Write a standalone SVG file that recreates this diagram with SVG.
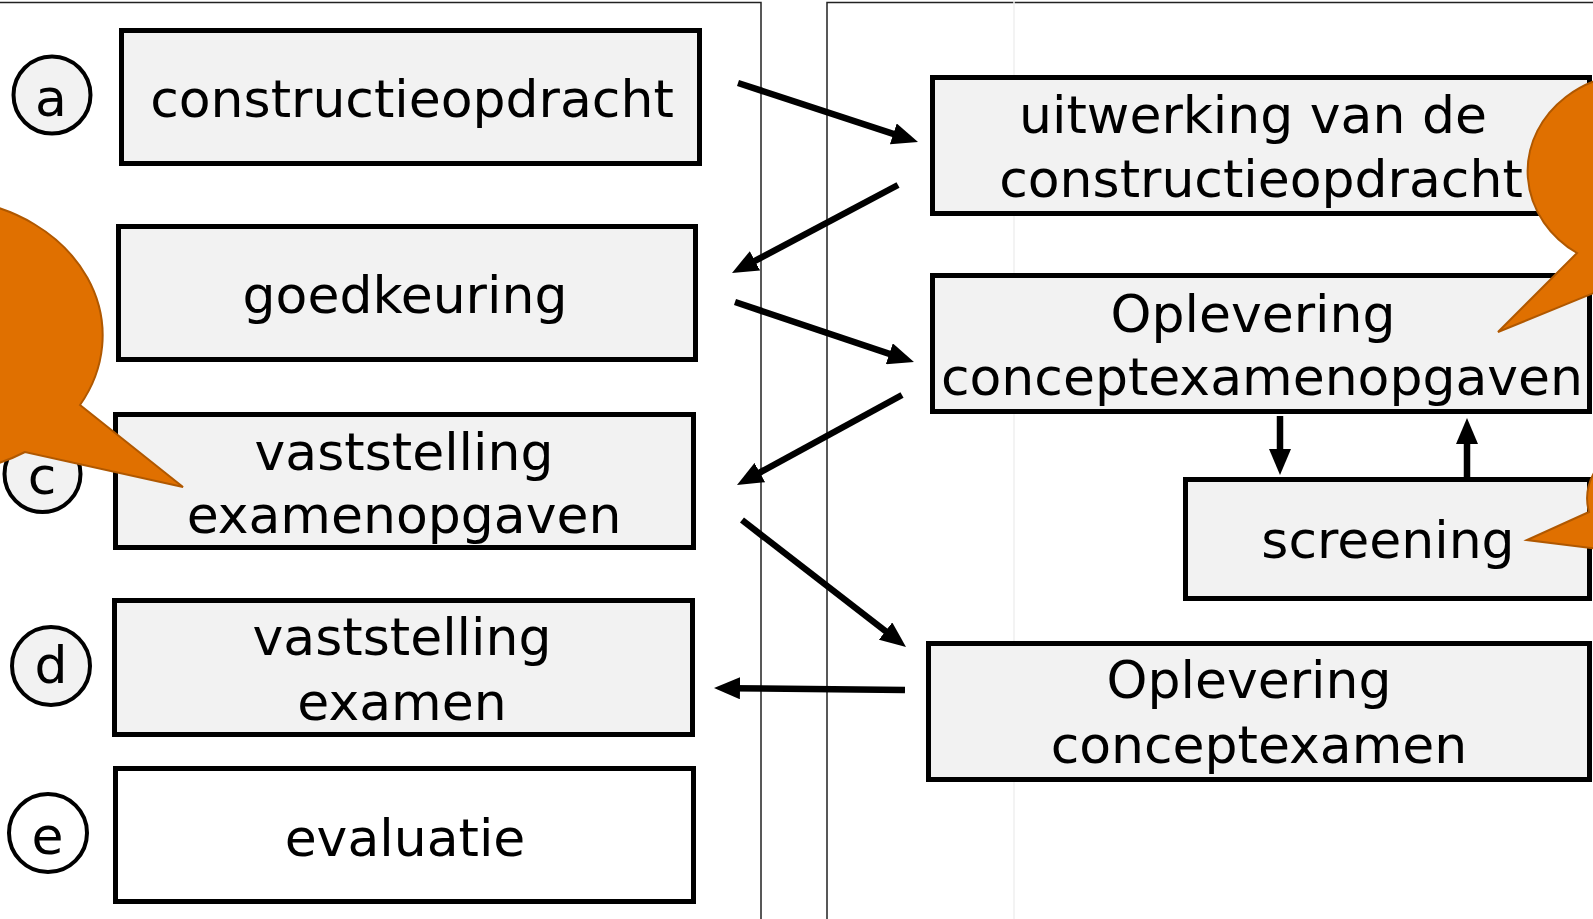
<svg xmlns="http://www.w3.org/2000/svg" width="1593" height="919" viewBox="0 0 1593 919">
<style>
.box{fill:#f2f2f2;stroke:#000;stroke-width:5}
.lbl{font-family:"DejaVu Sans","Verdana",sans-serif;font-size:52px;fill:#000;text-anchor:middle}
.circ{fill:#f2f2f2;stroke:#000;stroke-width:4}
.white{fill:#fff}
.panel{fill:none;stroke:#222;stroke-width:1.5}
.conn{stroke:#000;stroke-width:6.5;fill:none;marker-end:url(#ah)}
.call{fill:#e07000;stroke:#b05800;stroke-width:2}
</style>
<defs>
<marker id="ah" markerUnits="userSpaceOnUse" markerWidth="26" markerHeight="22" viewBox="0 0 26 22" refX="8" refY="11" orient="auto">
<path d="M0,0 L26,11 L0,22 z" fill="#000"/>
</marker>
</defs>
<rect width="1593" height="919" fill="#fff"/>
<g id="panels">
<path class="panel" d="M-5,2.5 H761 V925"/>
<path class="panel" d="M827,925 V2.5 H1600"/>
<line x1="1014" y1="0" x2="1014" y2="919" stroke="#efefef" stroke-width="1.5"/>
</g>
<g id="node-a">
<circle class="circ" cx="52" cy="95" r="38.5"/>
<text class="lbl" x="51" y="116">a</text>
<rect class="box" x="121.5" y="30.5" width="578" height="133"/>
<text class="lbl" x="412" y="117">constructieopdracht</text>
</g>
<g id="node-b">
<rect class="box" x="118.5" y="226.5" width="577" height="133"/>
<text class="lbl" x="405" y="313">goedkeuring</text>
</g>
<g id="node-c">
<circle class="circ" cx="42.5" cy="474" r="38"/>
<text class="lbl" x="42" y="494">c</text>
<rect class="box" x="115.5" y="414.5" width="578" height="133"/>
<text class="lbl" x="404" y="470">vaststelling</text>
<text class="lbl" x="404" y="533">examenopgaven</text>
</g>
<g id="node-d">
<circle class="circ" cx="51" cy="666" r="39"/>
<text class="lbl" x="51" y="683">d</text>
<rect class="box" x="114.5" y="600.5" width="578" height="134"/>
<text class="lbl" x="402" y="655">vaststelling</text>
<text class="lbl" x="402" y="720">examen</text>
</g>
<g id="node-e">
<circle class="circ white" cx="48" cy="833" r="39"/>
<text class="lbl" x="47.5" y="854">e</text>
<rect class="box white" x="115.5" y="768.5" width="578" height="133"/>
<text class="lbl" x="405" y="856">evaluatie</text>
</g>
<g id="node-uitwerking">
<rect class="box" x="932.5" y="77.5" width="657" height="136"/>
<text class="lbl" x="1253" y="133">uitwerking van de</text>
<text class="lbl" x="1261" y="197">constructieopdracht</text>
</g>
<g id="node-oplevering-opgaven">
<rect class="box" x="932.5" y="275.5" width="657" height="136"/>
<text class="lbl" x="1253" y="332">Oplevering</text>
<text class="lbl" x="1262" y="395">conceptexamenopgaven</text>
</g>
<g id="node-screening">
<rect class="box" x="1185.5" y="479.5" width="404" height="119"/>
<text class="lbl" x="1388" y="558">screening</text>
</g>
<g id="node-oplevering-examen">
<rect class="box" x="928.5" y="643.5" width="661" height="136"/>
<text class="lbl" x="1249" y="698">Oplevering</text>
<text class="lbl" x="1259" y="763">conceptexamen</text>
</g>
<g id="connectors">
<line class="conn" x1="738" y1="83" x2="900.9" y2="136.4"/>
<line class="conn" x1="898" y1="185" x2="747.9" y2="264.6"/>
<line class="conn" x1="735" y1="302" x2="896.9" y2="356.3"/>
<line class="conn" x1="902" y1="395" x2="752.8" y2="476.4"/>
<line class="conn" x1="742" y1="520" x2="891.8" y2="636"/>
<line class="conn" x1="905" y1="690" x2="732" y2="688.2"/>
<line class="conn" x1="1280" y1="416" x2="1280" y2="457"/>
<line class="conn" x1="1467" y1="477" x2="1467" y2="436"/>
</g>
<g id="callout-left">
<path class="call" d="M80,405 L183,487 L25,452 A164,137 0 1 1 80,405 Z"/>
</g>
<g id="callout-right-top">
<path class="call" d="M1577,253 L1498,332 L1655,268 A110,98 0 1 0 1577,253 Z"/>
</g>
<g id="callout-right-bottom">
<path class="call" d="M1589,512 L1527,540 L1630,553 A73,60 0 1 0 1589,512 Z"/>
</g>
</svg>
